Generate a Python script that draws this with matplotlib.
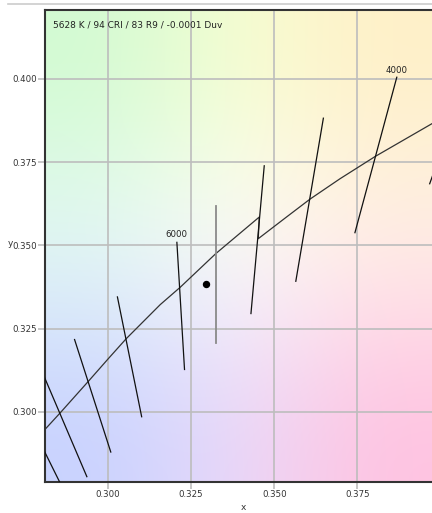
import numpy as np
import matplotlib
matplotlib.use("Agg")
import matplotlib.pyplot as plt
from matplotlib.lines import Line2D

# chromaticity data
locus_x = [0.2810, 0.2856, 0.2941, 0.3001, 0.3054, 0.3157, 0.3217, 0.3324,
           0.3455, 0.3452, 0.3533, 0.3608, 0.3698, 0.3804, 0.3974]
locus_y = [0.2947, 0.2997, 0.3092, 0.3160, 0.3219, 0.3322, 0.3374, 0.3475,
           0.3585, 0.3520, 0.3582, 0.3639, 0.3700, 0.3767, 0.3865]

# isotemperature lines: (x1, y1, x2, y2)
iso_x1 = [0.2789, 0.2789, 0.2899, 0.3028, 0.3207, 0.3470, 0.3648, 0.3869, 0.3981]
iso_y1 = [0.2920, 0.3149, 0.3217, 0.3345, 0.3509, 0.3739, 0.3882, 0.4005, 0.3721]
iso_x2 = [0.2865, 0.2936, 0.3008, 0.3101, 0.3230, 0.3430, 0.3565, 0.3743, 0.3968]
iso_y2 = [0.2767, 0.2805, 0.2879, 0.2985, 0.3127, 0.3295, 0.3392, 0.3538, 0.3685]

cct_line_x = [0.3324, 0.3324]
cct_line_y = [0.3619, 0.3207]

iso_labels = ["6000", "4000"]
iso_label_x = [0.3206, 0.3867]
iso_label_y = [0.3534, 0.4025]

point_x = [0.3294]
point_y = [0.3385]

title = "5628 K / 94 CRI / 83 R9 / -0.0001 Duv"
xticks = [0.300, 0.325, 0.350, 0.375]
yticks = [0.300, 0.325, 0.350, 0.375, 0.400]
xlim = (0.2810, 0.3975)
ylim = (0.2789, 0.4207)

fig = plt.figure(figsize=(4.32, 5.13), dpi=100)
ax = fig.add_axes([45/432, 31/513, 387/432, 472/513])

# soft colour background
bg = np.array([
    [[0.82, 0.98, 0.82], [0.97, 1.00, 0.82], [1.00, 0.94, 0.78]],
    [[0.90, 0.98, 0.97], [1.00, 1.00, 1.00], [1.00, 0.94, 0.92]],
    [[0.78, 0.82, 1.00], [0.92, 0.85, 0.98], [1.00, 0.76, 0.88]],
])
ax.imshow(bg, extent=[xlim[0], xlim[1], ylim[0], ylim[1]], aspect="auto",
          interpolation="bicubic", zorder=0)

ax.set_xlim(*xlim)
ax.set_ylim(*ylim)
ax.set_xticks(xticks)
ax.set_yticks(yticks)
ax.set_xticklabels(["%.3f" % v for v in xticks])
ax.set_yticklabels(["%.3f" % v for v in yticks])
ax.grid(True, color="#bdbdbd", linewidth=1.2, zorder=1)
ax.tick_params(length=5, width=1.2, color="#bdbdbd", labelsize=6.2,
               labelcolor="#333333", pad=1)
ax.set_axisbelow(True)

for s in ["left", "top", "bottom"]:
    ax.spines[s].set_color("#333333")
    ax.spines[s].set_linewidth(1.5)
ax.spines["right"].set_visible(False)

ax.plot(locus_x, locus_y, color="#333333", linewidth=0.9, zorder=3)
for i in range(len(iso_x1)):
    ax.plot([iso_x1[i], iso_x2[i]], [iso_y1[i], iso_y2[i]],
            color="#111111", linewidth=0.9, zorder=3)
ax.plot(cct_line_x, cct_line_y, color="#8a8a8a", linewidth=1.3, zorder=3)

for t, lx, ly in zip(iso_labels, iso_label_x, iso_label_y):
    ax.text(lx, ly, t, fontsize=6.2, ha="center", va="center", color="#222222", zorder=4)

ax.plot(point_x, point_y, "o", color="black", markersize=4.3, zorder=5)

ax.text(8/387, 1 - 15/472, title, transform=ax.transAxes, fontsize=6.5,
        ha="left", va="center", color="#222222", zorder=6)

fig.text(10/432, 1 - 244/513, "y", fontsize=6.5, ha="center", va="center", color="#333333")
fig.text(243/432, 1 - 508/513, "x", fontsize=6.5, ha="center", va="center", color="#333333")

fig.add_artist(Line2D([8/432, 1], [1 - 4/513, 1 - 4/513], color="#cccccc", linewidth=1.2))

fig.savefig("out.png", dpi=100)
